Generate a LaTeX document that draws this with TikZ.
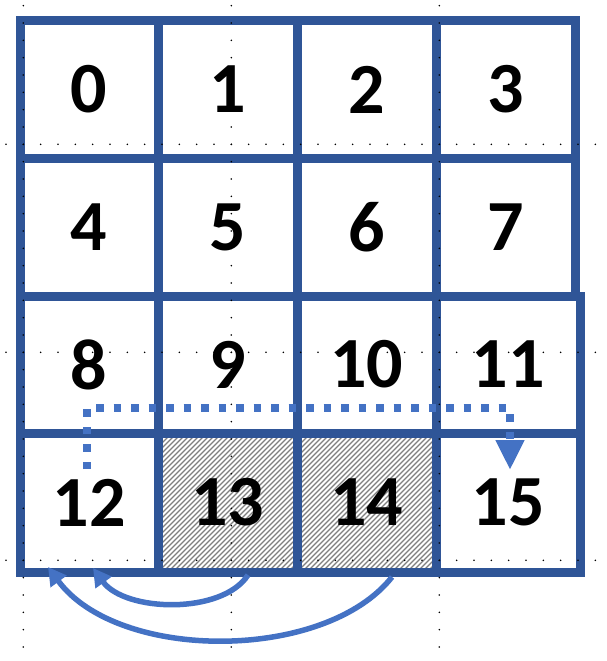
\documentclass[tikz,border=0pt]{standalone}
\usepackage{fontspec}
\setmainfont{Carlito}
\usetikzlibrary{arrows.meta,calc}
\definecolor{gridblue}{HTML}{2F5597}
\definecolor{arrblue}{HTML}{4472C4}
\definecolor{hatchgray}{HTML}{7F7F7F}
\tikzset{
  cell/.style={rectangle, draw=gridblue, line width=9pt, fill=white, inner sep=0pt, outer sep=0pt,
    font=\fontsize{72}{80}\selectfont\bfseries, text=black},
  hatched/.style={path picture={
    \foreach \k in {-32,...,32}{
      \draw[hatchgray, line width=1.3pt] ($(path picture bounding box.south west)+(\k*5,0)$) -- ++(170,-170);
    }}},
  dotarrow/.style={draw=arrblue, line width=7.5pt, dash pattern=on 7.5pt off 10pt,
    -{Triangle[length=30pt,width=27pt]}},
  arcarrow/.style={draw=arrblue, line width=5.5pt, -{Triangle[length=18pt,width=19pt]}},
  griddot/.style={fill=black, draw=none}
}
\begin{document}
\begin{tikzpicture}[x=1pt, y=-1pt]
\useasboundingbox (0,0) rectangle (607,661);
% row 0
\node[cell, minimum width=138pt, minimum height=137pt] (c0) at (89,89.5) {0};
\node[cell, minimum width=139pt, minimum height=137pt] (c1) at (227.5,89.5) {1};
\node[cell, minimum width=139pt, minimum height=137pt] (c2) at (366.5,89.5) {2};
\node[cell, minimum width=139pt, minimum height=137pt] (c3) at (505.5,89.5) {3};
% row 1
\node[cell, minimum width=138pt, minimum height=138pt] (c4) at (89,227) {4};
\node[cell, minimum width=139pt, minimum height=138pt] (c5) at (227.5,227) {5};
\node[cell, minimum width=139pt, minimum height=138pt] (c6) at (366.5,227) {6};
\node[cell, minimum width=139pt, minimum height=138pt] (c7) at (505.5,227) {7};
% row 2
\node[cell, minimum width=138pt, minimum height=137pt] (c8) at (89,364.5) {8};
\node[cell, minimum width=139pt, minimum height=137pt] (c9) at (227.5,364.5) {9};
\node[cell, minimum width=139pt, minimum height=137pt] (c10) at (366.5,364.5) {10};
\node[cell, minimum width=144pt, minimum height=137pt] (c11) at (508,364.5) {11};
% row 3
\node[cell, minimum width=138pt, minimum height=139pt] (c12) at (89,502.5) {12};
\node[cell, hatched, minimum width=139pt, minimum height=139pt] (c13) at (227.5,502.5) {13};
\node[cell, hatched, minimum width=139pt, minimum height=139pt] (c14) at (366.5,502.5) {14};
\node[cell, minimum width=144pt, minimum height=139pt] (c15) at (508,502.5) {15};

% dotted route 12 -> 15
\coordinate (p0) at (87,469);
\coordinate (q2) at (510,408);
\coordinate (p1) at (510,470);
\draw[dotarrow] (p0) |- (q2) -- (p1);

% curved arrows from 13 and 14 back to 12
\coordinate (a13) at (248,575);
\coordinate (t13) at (93,568);
\coordinate (a14) at (392,577);
\coordinate (t14) at (48,567);
\draw[arcarrow] (a13) .. controls (222,615) and (125,612) .. (t13);
\draw[arcarrow] (a14) .. controls (325,662) and (118,662) .. (t14);

% grid dots
\foreach \yy in {144.33,352.33,560.33}{
  \foreach \k in {-1,...,33}{
    \fill[griddot] ({23.33+17.333*\k},\yy) circle (0.85pt);
  }}
\foreach \xx in {23.33,231.33,439.33}{
  \foreach \k in {-8,...,29}{
    \fill[griddot] (\xx,{144.33+17.333*\k}) circle (0.85pt);
  }}
\end{tikzpicture}
\end{document}
